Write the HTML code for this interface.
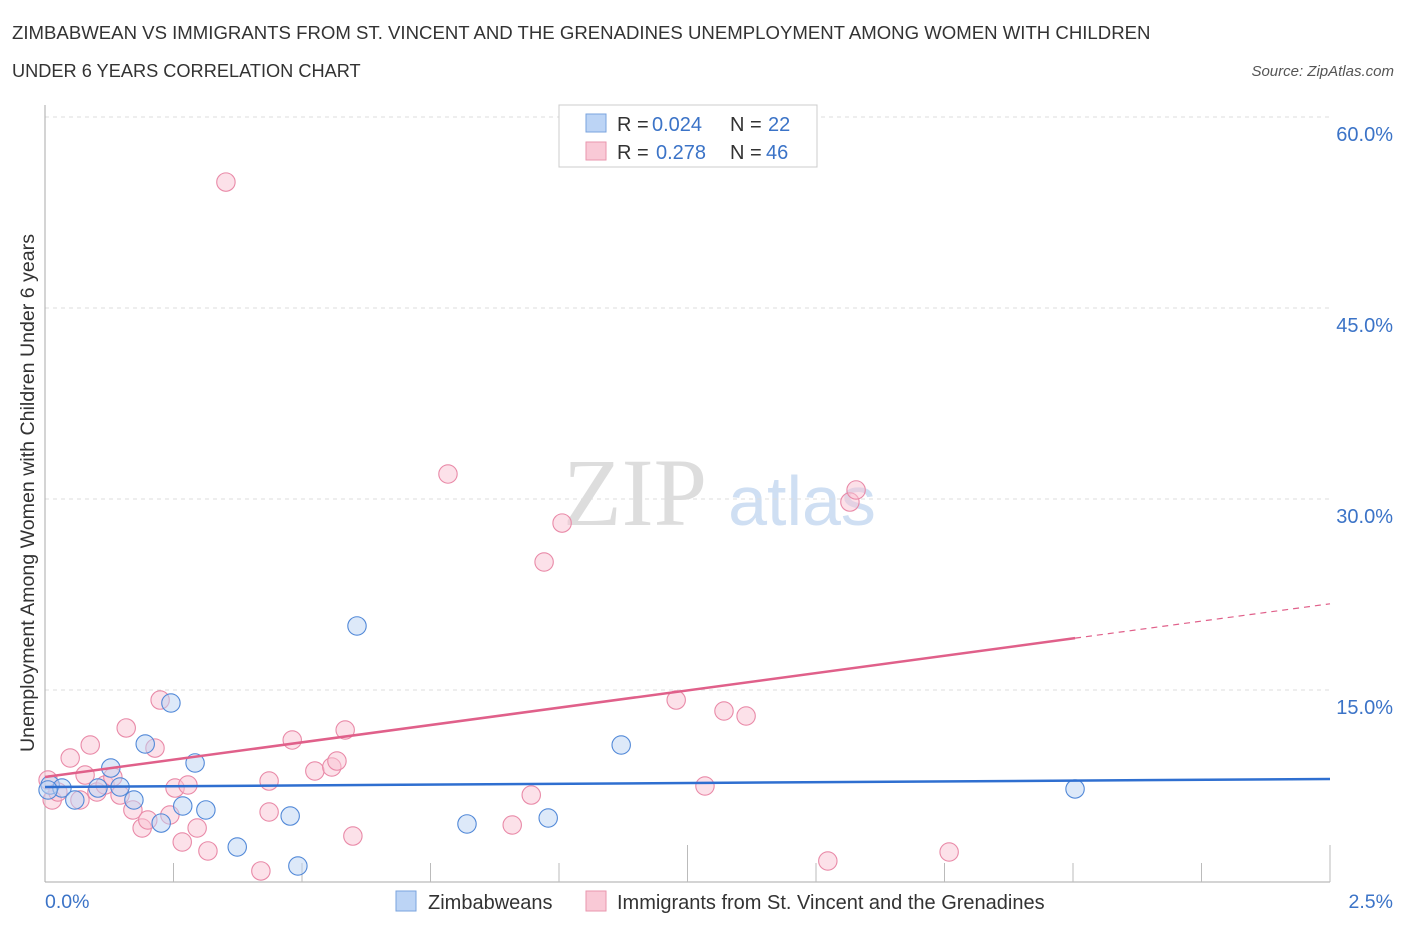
<!DOCTYPE html>
<html><head><meta charset="utf-8"><style>
body{margin:0;background:#fff;font-family:"Liberation Sans",sans-serif;}
</style></head><body>
<svg width="1406" height="930" xmlns="http://www.w3.org/2000/svg" font-family="Liberation Sans, sans-serif">
<text x="12" y="39" font-size="18.6" fill="#333">ZIMBABWEAN VS IMMIGRANTS FROM ST. VINCENT AND THE GRENADINES UNEMPLOYMENT AMONG WOMEN WITH CHILDREN</text>
<text x="12" y="77" font-size="18.2" fill="#333">UNDER 6 YEARS CORRELATION CHART</text>
<text x="1394" y="76" font-size="15" fill="#555" font-style="italic" text-anchor="end">Source: ZipAtlas.com</text>
<text x="635" y="525" font-size="96" fill="#ddd" font-family="Liberation Serif, serif" text-anchor="middle">ZIP</text>
<text x="802" y="525" font-size="70" fill="#cfdff3" text-anchor="middle">atlas</text>
<g id="grid"></g><g id="axes"></g><g id="marks"></g>
<text transform="translate(34,493) rotate(-90)" font-size="19.6" fill="#333" text-anchor="middle">Unemployment Among Women with Children Under 6 years</text>
<text x="45" y="908" font-size="19.5" fill="#3b73c7">0.0%</text>
<text x="1393" y="908" font-size="19.5" fill="#3b73c7" text-anchor="end">2.5%</text>
<g>
<rect x="559" y="105" width="258" height="62" fill="#fff" stroke="#ccc"/>
<rect x="586" y="114" width="20" height="18" fill="#bcd4f5" stroke="#7aa3de"/>
<rect x="586" y="142" width="20" height="18" fill="#f9c9d6" stroke="#e996ae"/>
<text x="617" y="131" font-size="20" fill="#333">R =</text>
<text x="652" y="131" font-size="20" fill="#3b73c7">0.024</text>
<text x="730" y="131" font-size="20" fill="#333">N =</text>
<text x="768" y="131" font-size="20" fill="#3b73c7">22</text>
<text x="617" y="159" font-size="20" fill="#333">R =</text>
<text x="656" y="159" font-size="20" fill="#3b73c7">0.278</text>
<text x="730" y="159" font-size="20" fill="#333">N =</text>
<text x="766" y="159" font-size="20" fill="#3b73c7">46</text>
</g>
<g>
<rect x="396" y="891" width="20" height="20" fill="#bcd4f5" stroke="#7aa3de"/>
<text x="428" y="909" font-size="20" fill="#333">Zimbabweans</text>
<rect x="586" y="891" width="20" height="20" fill="#f9c9d6" stroke="#e996ae"/>
<text x="617" y="909" font-size="20" fill="#333">Immigrants from St. Vincent and the Grenadines</text>
</g>
</svg>
<script>
const yTicks=[15,30,45,60];
const yTickLabels=["15.0%","30.0%","45.0%","60.0%"];
const xTicks=[0.25,0.5,0.75,1,1.25,1.5,1.75,2,2.25,2.5];
const blueX=[0.010,0.033,0.058,0.103,0.128,0.146,0.173,0.195,0.226,0.245,0.268,0.292,0.313,0.374,0.477,0.492,0.607,0.821,0.979,1.121,2.004,0.006];
const blueY=[7.54,7.30,6.36,7.30,8.87,7.38,6.36,10.76,4.55,13.98,5.89,9.27,5.58,2.67,5.10,1.18,20.03,4.48,4.95,10.68,7.23,7.15];
const pinkX=[0.352,0.784,1.006,0.971,1.566,1.578,0.006,0.014,0.025,0.049,0.068,0.078,0.088,0.101,0.117,0.132,0.146,0.158,0.171,0.189,0.200,0.214,0.224,0.243,0.253,0.267,0.278,0.296,0.317,0.420,0.436,0.436,0.481,0.525,0.558,0.568,0.584,0.599,0.909,0.946,1.228,1.284,1.321,1.364,1.523,1.759];
const pinkY=[54.89,31.96,28.11,25.05,29.76,30.71,7.93,6.36,6.99,9.66,6.36,8.32,10.68,6.99,7.54,8.17,6.75,12.02,5.58,4.16,4.79,10.44,14.21,5.18,7.30,3.06,7.54,4.16,2.36,0.79,7.85,5.42,11.07,8.64,8.95,9.42,11.86,3.53,4.40,6.75,14.21,7.46,13.35,12.96,1.57,2.28];
const blueTrend=[7.38,8.01];
const pinkTrend=[8.17,21.77];
const pinkSolidEnd=2.004;
const NS="http://www.w3.org/2000/svg";
const sx=v=>45+v/2.5*1285, sy=v=>881-v/15*191;
function mk(tag,attrs,parent){const e=document.createElementNS(NS,tag);for(const k in attrs)e.setAttribute(k,attrs[k]);document.getElementById(parent).appendChild(e);return e;}
yTicks.forEach((t,i)=>{
 const g=mk('line',{x1:45,x2:1330,y1:sy(t),y2:sy(t),stroke:'#ddd','stroke-dasharray':'4,4'},'grid');
 
 
 const l=mk('text',{x:1393,y:sy(t)+24,'font-size':20,fill:'#3b73c7','text-anchor':'end'},'grid');
 l.textContent=yTickLabels[i];
 
 
});
const ax=mk('line',{x1:45,x2:45,y1:105,y2:882,stroke:'#aaa'},'axes');


const bx=mk('line',{x1:45,x2:1330,y1:882,y2:882,stroke:'#aaa'},'axes');


xTicks.forEach((t,i)=>{
 const long=(i===4||i===9);
 const tk=mk('line',{x1:sx(t),x2:sx(t),y1:(long?845:863),y2:882,stroke:'#bbb'},'axes');
 
 
});
function dot(x,y,c,s){const d=mk('circle',{cx:sx(x),cy:sy(y),r:9.2,fill:c,'fill-opacity':0.5,stroke:s,'stroke-width':1.1},'marks');return d;}
pinkX.forEach((x,i)=>{const d=dot(x,pinkY[i],'#f9c4d3','#e98aa8');
 
 });
blueX.forEach((x,i)=>{const d=dot(x,blueY[i],'#bcd4f3','#5289d8');
 
 });
const bl=mk('line',{x1:sx(0),y1:sy(blueTrend[0]),x2:sx(2.5),y2:sy(blueTrend[1]),stroke:'#2f6fd0','stroke-width':2.5},'marks');


const pm=pinkTrend[0]+(pinkTrend[1]-pinkTrend[0])*pinkSolidEnd/2.5;
const pl=mk('line',{x1:sx(0),y1:sy(pinkTrend[0]),x2:sx(pinkSolidEnd),y2:sy(pm),stroke:'#e0608a','stroke-width':2.5},'marks');


const pd=mk('line',{x1:sx(pinkSolidEnd),y1:sy(pm),x2:sx(2.5),y2:sy(pinkTrend[1]),stroke:'#e0608a','stroke-width':1.2,'stroke-dasharray':'6,5'},'marks');


</script>
</body></html>
